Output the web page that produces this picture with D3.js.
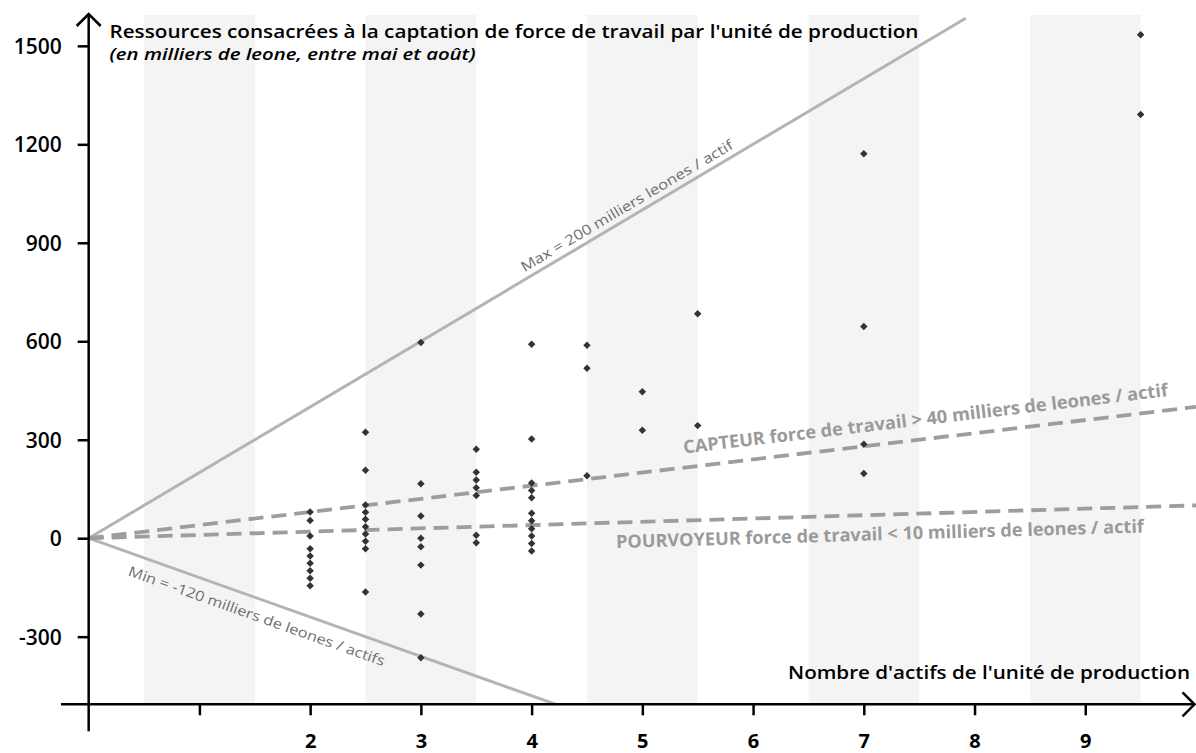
<!DOCTYPE html>
<html>
<head>
<meta charset="utf-8">
<script src="https://cdn.jsdelivr.net/npm/d3@7"></script>
<style>
  body { margin: 0; background: #fff; }
  svg text { font-family: 'Open Sans', 'Noto Sans', sans-serif; }
</style>
</head>
<body>
<script>
// ---------------Data---------------

// nombre d'actifs de chaque colonne de points
const actifs = [2, 2.5, 3, 3.5, 4, 4.5, 5, 5.5, 7, 9.5]
// ressources (milliers de leones) pour chaque colonne
const ressources = [
  [80, 54, 7, -32, -54, -76, -99, -122, -145],
  [323, 207, 101, 79, 58, 35, 13, -9, -32, -164],
  [596, 166, 68, 0, -26, -82, -231, -364],
  [271, 201, 177, 154, 130, 9, -14],
  [591, 302, 168, 145, 123, 76, 53, 29, 7, -16, -39],
  [588, 518, 190],
  [446, 329],
  [684, 343],
  [1171, 645, 286, 197],
  [1534, 1291]
]

const yTicks = [-300, 0, 300, 600, 900, 1200, 1500]
const xTicks = [1, 2, 3, 4, 5, 6, 7, 8, 9]
const bandCenters = [1, 3, 5, 7, 9]

// droites de référence : pente (milliers de leones / actif) et fin
const lineSlopes = [200, -120, 40, 10]
const lineEnds = [7.92, 4.22, 10, 10]
const lineLabels = [
  'Max = 200 milliers leones / actif',
  'Min = -120 milliers de leones / actifs',
  'CAPTEUR force de travail > 40 milliers de leones / actif',
  'POURVOYEUR force de travail < 10 milliers de leones / actif'
]

const title = "Ressources consacrées à la captation de force de travail par l'unité de production"
const subtitle = '(en milliers de leone, entre mai et août)'
const xTitle = "Nombre d'actifs de l'unité de production"

// ---------------Setup---------------

const fullWidth = 1196
const fullHeight = 753

const svg = d3.select('body')
  .append('svg')
  .attr('width', fullWidth)
  .attr('height', fullHeight)

const xScale = d3.scaleLinear()
  .domain([-0.25, 10])
  .range([61, 1196])

const yScale = d3.scaleLinear()
  .domain([-506, 1597])
  .range([704.3, 14])

const x0 = xScale(0)
const y0 = yScale(0)
const yBottom = yScale.domain()[0]
const yTop = yScale.domain()[1]

// ---------------Bands---------------

svg.append('g')
  .selectAll('rect')
  .data(bandCenters)
  .enter().append('rect')
  .attr('x', d => xScale(d - 0.5))
  .attr('width', d => xScale(d + 0.5) - xScale(d - 0.5))
  .attr('y', yScale(yTop) + 1)
  .attr('height', yScale(yBottom) - yScale(yTop) - 1)
  .attr('fill', '#f4f4f4')

// ---------------Reference lines---------------

const lineStyles = [
  { dash: null, color: '#b4b4b4', width: 3 },
  { dash: null, color: '#b4b4b4', width: 3 },
  { dash: '15,8', color: '#9d9d9d', width: 3.8 },
  { dash: '15,8', color: '#9d9d9d', width: 3.8 }
]

svg.append('g')
  .selectAll('line')
  .data(lineSlopes)
  .enter().append('line')
  .attr('x1', x0)
  .attr('y1', y0)
  .attr('x2', (d, i) => xScale(lineEnds[i]))
  .attr('y2', (d, i) => yScale(d * lineEnds[i]))
  .attr('stroke', (d, i) => lineStyles[i].color)
  .attr('stroke-width', (d, i) => lineStyles[i].width)
  .style('stroke-dasharray', (d, i) => lineStyles[i].dash)

// labels along the lines
const labelStyles = [
  { at: 3.965, offset: -6.5, size: 14, weight: 400, color: '#6e6e6e', len: 244 },
  { at: 0.416, offset: 22, size: 14, weight: 400, color: '#6e6e6e', len: 271 },
  { at: 5.39, offset: -14, size: 18, weight: 700, color: '#9a9a9a', len: 488 },
  { at: 4.757, offset: 25.5, size: 18, weight: 700, color: '#9a9a9a', len: 528 }
]

svg.append('g')
  .selectAll('text')
  .data(lineSlopes)
  .enter().append('text')
  .attr('transform', (d, i) => {
    let s = labelStyles[i]
    let angle = Math.atan2(yScale(d) - y0, xScale(1) - x0) * 180 / Math.PI
    return `translate(${xScale(s.at)},${yScale(d * s.at)}) rotate(${angle})`
  })
  .attr('y', (d, i) => labelStyles[i].offset)
  .attr('font-size', (d, i) => labelStyles[i].size)
  .attr('font-weight', (d, i) => labelStyles[i].weight)
  .attr('fill', (d, i) => labelStyles[i].color)
  .attr('textLength', (d, i) => labelStyles[i].len)
  .attr('lengthAdjust', 'spacingAndGlyphs')
  .text((d, i) => lineLabels[i])

// ---------------Points---------------

const points = []
actifs.forEach((a, i) => {
  ressources[i].forEach(r => points.push({ actifs: a, ressources: r }))
})

svg.append('g')
  .selectAll('path')
  .data(points)
  .enter().append('path')
  .attr('d', d3.symbol(d3.symbolSquare, 28))
  .attr('transform', d => `translate(${xScale(d.actifs)},${yScale(d.ressources)}) rotate(45)`)
  .attr('fill', '#333')

// ---------------Axes---------------

const yAxis = d3.axisLeft(yScale)
  .tickValues(yTicks)
  .tickSize(11)
  .tickPadding(16)
  .tickFormat(d => String(d))

const yG = svg.append('g')
  .attr('transform', `translate(${x0},0)`)
  .call(yAxis)

yG.select('.domain').remove()
yG.selectAll('.tick line').attr('stroke', '#000').attr('stroke-width', 2.5)
yG.selectAll('.tick text')
  .attr('dy', '0.36em')
  .attr('font-size', 21)
  .attr('font-weight', 600)
  .attr('fill', '#000')

const xAxis = d3.axisBottom(xScale)
  .tickValues(xTicks)
  .tickSize(11)
  .tickFormat(d => d === 1 ? '' : String(d))

const xG = svg.append('g')
  .attr('transform', `translate(0,${yScale(yBottom)})`)
  .call(xAxis)

xG.select('.domain').remove()
xG.selectAll('.tick line').attr('stroke', '#000').attr('stroke-width', 2.5)
xG.selectAll('.tick text')
  .attr('y', 44)
  .attr('dy', 0)
  .attr('font-size', 20)
  .attr('font-weight', 700)
  .attr('fill', '#000')

// axis lines with arrows
const axes = svg.append('g')
  .attr('fill', 'none')
  .attr('stroke', '#000')
  .attr('stroke-width', 2.5)

const xEnd = xScale.range()[1] - 1.5
const yEnd = yScale(yTop)
const yAxisY = yScale(yBottom)

axes.append('line')
  .attr('x1', x0).attr('x2', x0)
  .attr('y1', yAxisY + 27).attr('y2', yEnd)
axes.append('path')
  .attr('d', `M${x0 - 12},${yEnd + 12}L${x0},${yEnd}L${x0 + 12},${yEnd + 12}`)

axes.append('line')
  .attr('x1', xScale.range()[0]).attr('x2', xEnd)
  .attr('y1', yAxisY).attr('y2', yAxisY)
axes.append('path')
  .attr('d', `M${xEnd - 12},${yAxisY - 12}L${xEnd},${yAxisY}L${xEnd - 12},${yAxisY + 12}`)

// ---------------Titles---------------

svg.append('text')
  .attr('x', 109.5)
  .attr('y', 37.5)
  .attr('font-size', 18.5)
  .attr('font-weight', 600)
  .attr('textLength', 809)
  .attr('lengthAdjust', 'spacingAndGlyphs')
  .text(title)

svg.append('text')
  .attr('x', 109.5)
  .attr('y', 59.5)
  .attr('font-size', 17)
  .attr('font-weight', 600)
  .attr('font-style', 'italic')
  .attr('textLength', 366)
  .attr('lengthAdjust', 'spacingAndGlyphs')
  .text(subtitle)

svg.append('text')
  .attr('x', 788)
  .attr('y', 678.5)
  .attr('font-size', 18.5)
  .attr('font-weight', 600)
  .attr('textLength', 402)
  .attr('lengthAdjust', 'spacingAndGlyphs')
  .text(xTitle)
</script>
</body>
</html>
